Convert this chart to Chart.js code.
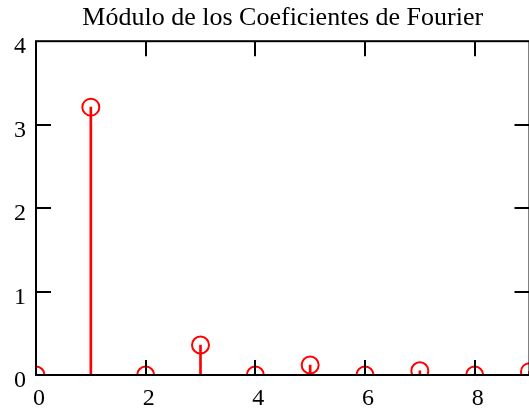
<!DOCTYPE html>
<html>
<head>
<meta charset="utf-8">
<script src="https://cdn.jsdelivr.net/npm/chart.js@4"></script>
<style>
  html, body { margin: 0; padding: 0; background: #fff; overflow: hidden; }
  #wrap { width: 540px; height: 411px; }
</style>
</head>
<body>
<div id="wrap"><canvas id="c" width="540" height="411"></canvas></div>
<script>
const titleText = 'Módulo de los Coeficientes de Fourier';
const harmonics = [0, 1, 2, 3, 4, 5, 6, 7, 8, 9];
const magnitudes = [0, 3.21, 0, 0.36, 0, 0.12, 0, 0.05, 0, 0.04];
const xTicks = [0, 2, 4, 6, 8];
const yTicks = [0, 1, 2, 3, 4];

const points = harmonics.map((h, i) => ({ x: h, y: magnitudes[i] }));
const FONT = "'Liberation Serif', 'Times New Roman', serif";

const framePlugin = {
  id: 'frame',
  afterDatasetsDraw(chart) {
    const { ctx, chartArea: { left, right, top, bottom }, scales: { x, y } } = chart;
    ctx.save();
    ctx.strokeStyle = '#000';
    ctx.lineWidth = 2;
    ctx.strokeRect(left, top, right - left, bottom - top);
    const tl = 15;
    ctx.beginPath();
    xTicks.forEach(v => {
      const px = Math.round(x.getPixelForValue(v));
      if (px <= left + 1) return;
      ctx.moveTo(px, bottom); ctx.lineTo(px, bottom - tl);
      ctx.moveTo(px, top); ctx.lineTo(px, top + tl);
    });
    yTicks.forEach(v => {
      const py = Math.round(y.getPixelForValue(v));
      if (py <= top + 1 || py >= bottom - 1) return;
      ctx.moveTo(left, py); ctx.lineTo(left + tl, py);
      ctx.moveTo(right, py); ctx.lineTo(right - tl, py);
    });
    ctx.stroke();
    ctx.restore();
  }
};

new Chart(document.getElementById('c'), {
  data: {
    datasets: [
      {
        type: 'scatter',
        data: points,
        showLine: false,
        pointStyle: 'circle',
        pointRadius: 8.5,
        pointHoverRadius: 8.5,
        borderColor: '#ff0000',
        backgroundColor: 'rgba(0,0,0,0)',
        borderWidth: 2,
        order: 0
      },
      {
        type: 'bar',
        data: points,
        backgroundColor: '#ff0000',
        borderWidth: 0,
        barThickness: 2,
        order: 1
      }
    ]
  },
  options: {
    responsive: false,
    animation: false,
    events: [],
    layout: { padding: { left: 0, right: 3, top: 0, bottom: 0 } },
    plugins: {
      legend: { display: false },
      tooltip: { enabled: false },
      title: {
        display: true,
        text: titleText,
        fullSize: false,
        color: '#000',
        font: { family: FONT, size: 26, weight: 'normal', lineHeight: 1.2 },
        padding: { top: 3, bottom: 7 }
      }
    },
    scales: {
      x: {
        type: 'linear',
        position: 'bottom',
        min: 0,
        max: 9,
        offset: false,
        grid: { display: false, drawTicks: false },
        border: { display: false },
        afterBuildTicks: s => { s.ticks = xTicks.map(v => ({ value: v })); },
        afterFit: s => { s.height = 36; },
        ticks: {
          color: '#000',
          padding: 9,
          labelOffset: 3,
          maxRotation: 0,
          autoSkip: false,
          font: { family: FONT, size: 24 }
        }
      },
      y: {
        type: 'linear',
        min: 0,
        max: 4,
        grid: { display: false, drawTicks: false },
        border: { display: false },
        afterBuildTicks: s => { s.ticks = yTicks.map(v => ({ value: v })); },
        afterFit: s => { s.width = 36; },
        ticks: {
          color: '#000',
          padding: 10,
          labelOffset: 6,
          font: { family: FONT, size: 24 }
        }
      }
    }
  },
  plugins: [framePlugin]
});
</script>
</body>
</html>
